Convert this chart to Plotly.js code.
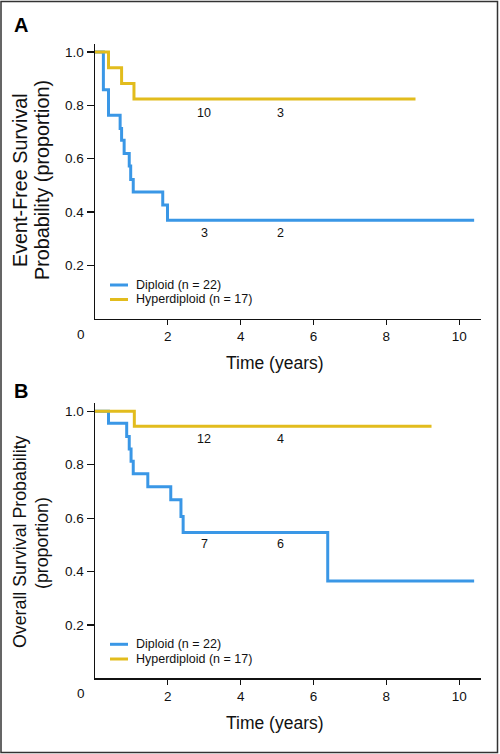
<!DOCTYPE html>
<html>
<head>
<meta charset="utf-8">
<script src="https://cdn.plot.ly/plotly-3.0.1.min.js"></script>
<style>
html,body{margin:0;padding:0;background:#fff;}
#chart{width:500px;height:754px;}
</style>
</head>
<body>
<div id="chart"></div>
<script>
// ---- Data ----
const seriesNames = ["Diploid (n = 22)", "Hyperdiploid (n = 17)"];
const seriesColors = ["#3a97e6", "#e2bc1d"];

// Panel A: Event-free survival
const efsDiploidTime = [0, 0.23, 0.37, 0.69, 0.73, 0.80, 0.94, 0.98, 1.05, 1.86, 1.99, 10.41];
const efsDiploidSurv = [1.0, 0.858, 0.763, 0.713, 0.669, 0.619, 0.572, 0.522, 0.475, 0.426, 0.369, 0.369];
const efsHyperTime = [0, 0.37, 0.73, 1.07, 8.8];
const efsHyperSurv = [1.0, 0.941, 0.882, 0.824, 0.824];

// Panel B: Overall survival
const osDiploidTime = [0, 0.37, 0.87, 0.94, 0.99, 1.05, 1.45, 2.08, 2.36, 2.42, 6.39, 10.41];
const osDiploidSurv = [1.0, 0.955, 0.906, 0.859, 0.813, 0.766, 0.718, 0.669, 0.606, 0.546, 0.365, 0.365];
const osHyperTime = [0, 1.08, 9.24];
const osHyperSurv = [1.0, 0.944, 0.944];

// Numbers at risk shown on the curves
const atRiskTimes = [3, 5.1];
const efsDiploidAtRisk = ["3", "2"];
const efsHyperAtRisk = ["10", "3"];
const osDiploidAtRisk = ["7", "6"];
const osHyperAtRisk = ["12", "4"];

const xTickVals = [2, 4, 6, 8, 10];
const yTickVals = [0.2, 0.4, 0.6, 0.8, 1.0];
const panelLetters = ["A", "B"];
const yTitlesA = ["Event-Free Survival", "Probability (proportion)"];
const yTitlesB = ["Overall Survival Probability", "(proportion)"];
const xTitle = "Time (years)";

// ---- Layout helpers ----
const W = 500, H = 754;
const px = x => x / W;
const py = y => 1 - y / H;
const SANS = "Liberation Sans, Arial, sans-serif";

function stepTrace(t, s, color, name, xa, ya) {
  return {x: t, y: s, type: "scatter", mode: "lines", name: name,
    line: {shape: "hv", color: color, width: 3}, xaxis: xa, yaxis: ya,
    showlegend: false, hoverinfo: "skip"};
}

const traces = [
  stepTrace(efsDiploidTime, efsDiploidSurv, seriesColors[0], seriesNames[0], "x", "y"),
  stepTrace(efsHyperTime, efsHyperSurv, seriesColors[1], seriesNames[1], "x", "y"),
  stepTrace(osDiploidTime, osDiploidSurv, seriesColors[0], seriesNames[0], "x2", "y2"),
  stepTrace(osHyperTime, osHyperSurv, seriesColors[1], seriesNames[1], "x2", "y2")
];

const xDomain = [px(95), px(480.7)];
function xAxis(anchor) {
  return {domain: xDomain, range: [0, 10.59], anchor: anchor,
    showline: true, linecolor: "#111", linewidth: 1.5, mirror: false,
    showgrid: false, zeroline: false, ticks: "outside", ticklen: 5, tickwidth: 1.2, tickcolor: "#111",
    tickvals: xTickVals, ticktext: xTickVals.map(String),
    tickfont: {family: SANS, size: 13.5, color: "#111"}, fixedrange: true};
}
function yAxis(domain, anchor) {
  return {domain: domain, range: [0, 1.03], anchor: anchor,
    showline: true, linecolor: "#111", linewidth: 1.5,
    showgrid: false, zeroline: false, ticks: "outside", ticklen: 7, tickwidth: 1.2, tickcolor: "#111",
    tickvals: yTickVals, ticktext: yTickVals.map(v => v.toFixed(1)),
    tickfont: {family: SANS, size: 13.5, color: "#111"}, fixedrange: true};
}

const annotations = [];
const shapes = [];
function txt(text, x, y, opts) {
  annotations.push(Object.assign({text: text, x: x, y: y, xref: "paper", yref: "paper",
    showarrow: false, xanchor: "center", yanchor: "middle",
    font: {family: SANS, size: 13, color: "#111"}}, opts || {}));
}

// panels
const panels = [
  {letter: panelLetters[0], letterY: 25, zeroY: 334, titleY: 363, yt: yTitlesA, ytY: [180, 180], ytSize: 19.8,
   legY: [285, 299.5], xa: "x", ya: "y", dR: efsDiploidAtRisk, hR: efsHyperAtRisk,
   dY: 0.319, hY: 0.772},
  {letter: panelLetters[1], letterY: 391, zeroY: 693, titleY: 722.5, yt: yTitlesB, ytY: [542, 543], ytSize: 17.8,
   legY: [644.3, 659], xa: "x2", ya: "y2", dR: osDiploidAtRisk, hR: osHyperAtRisk,
   dY: 0.503, hY: 0.896}
];

panels.forEach(p => {
  txt(p.letter, px(20.5), py(p.letterY), {font: {family: SANS, size: 20, color: "#000", weight: "bold"}});
  txt("0", px(81), py(p.zeroY), {font: {family: SANS, size: 13.5, color: "#111"}});
  txt(xTitle, px(275), py(p.titleY), {font: {family: SANS, size: 17.5, color: "#111"}});
  txt(p.yt[0], px(20), py(p.ytY[0]), {textangle: -90, font: {family: SANS, size: p.ytSize, color: "#111"}});
  txt(p.yt[1], px(42), py(p.ytY[1]), {textangle: -90, font: {family: SANS, size: p.ytSize, color: "#111"}});
  // legend
  seriesNames.forEach((n, i) => {
    shapes.push({type: "line", xref: "paper", yref: "paper", x0: px(110), x1: px(128),
      y0: py(p.legY[i]), y1: py(p.legY[i]), line: {color: seriesColors[i], width: 3}});
    txt(n, px(134), py(p.legY[i]), {xanchor: "left", font: {family: SANS, size: 12.5, color: "#111"}});
  });
  // numbers at risk
  atRiskTimes.forEach((t, i) => {
    annotations.push({text: p.dR[i], x: t, y: p.dY, xref: p.xa, yref: p.ya, showarrow: false,
      font: {family: SANS, size: 12.5, color: "#111"}});
    annotations.push({text: p.hR[i], x: t, y: p.hY, xref: p.xa, yref: p.ya, showarrow: false,
      font: {family: SANS, size: 12.5, color: "#111"}});
  });
});

// page border
shapes.push({type: "rect", xref: "paper", yref: "paper", x0: px(1), x1: px(497.5), y0: py(752.5), y1: py(1.5),
  line: {color: "#333", width: 1.5}, fillcolor: "rgba(0,0,0,0)", layer: "above"});

const layout = {
  width: W, height: H, margin: {l: 0, r: 0, t: 0, b: 0, pad: 0},
  paper_bgcolor: "#fff", plot_bgcolor: "#fff", showlegend: false,
  xaxis: xAxis("y"), yaxis: yAxis([py(318.5), py(44)], "x"),
  xaxis2: xAxis("y2"), yaxis2: yAxis([py(678.4), py(403.3)], "x2"),
  annotations: annotations, shapes: shapes
};

Plotly.newPlot("chart", traces, layout, {staticPlot: true, displayModeBar: false});
</script>
</body>
</html>
